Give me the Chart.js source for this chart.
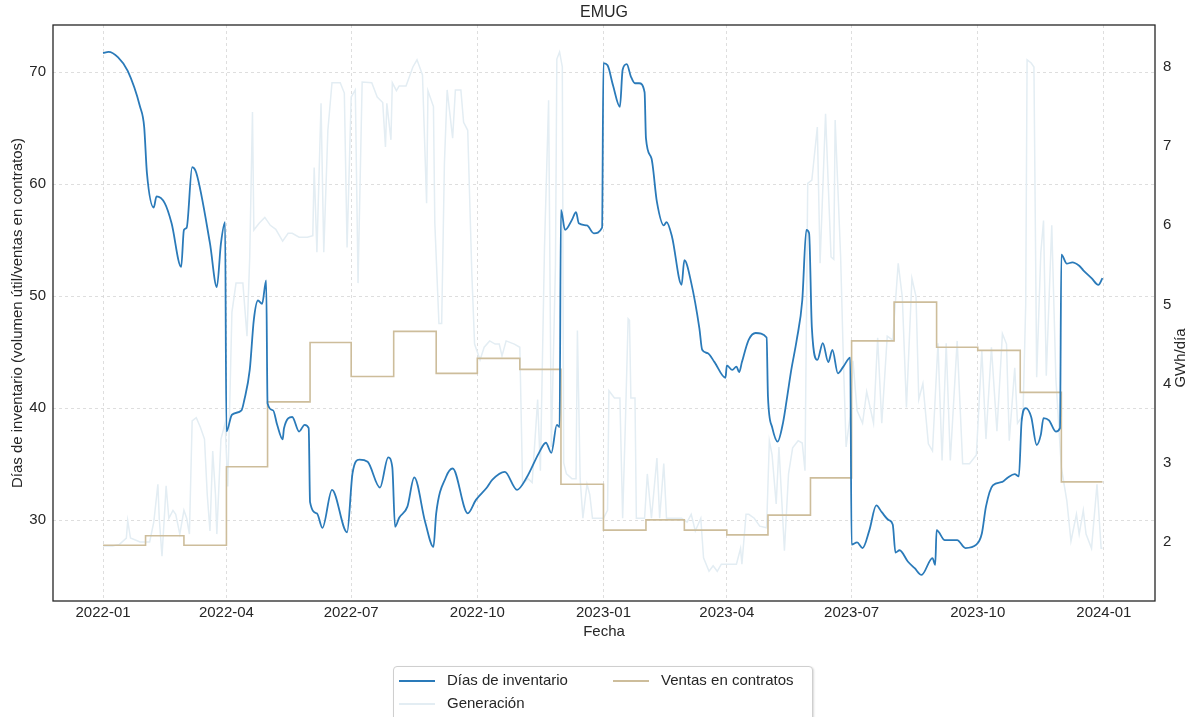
<!DOCTYPE html>
<html>
<head>
<meta charset="utf-8">
<script src="https://cdn.jsdelivr.net/npm/chart.js@4.4.1/dist/chart.umd.min.js"></script>
<style>
    html, body { margin: 0; padding: 0; background: #fff; }
    #wrap { position: relative; width: 1189px; height: 717px; overflow: hidden; }
    #legend {
        position: absolute; left: 393px; top: 666px; width: 418px; height: 64px;
        border: 1px solid #cfcfcf; border-radius: 4px; background: #fff;
        box-shadow: 1px 1px 2px rgba(0,0,0,0.15);
        font: 15px "Liberation Sans", Arial, sans-serif; color: #262626;
    }
    .item { position: absolute; height: 20px; line-height: 20px; white-space: nowrap; }
    .item span.muestra { display: inline-block; width: 36px; height: 0; vertical-align: middle; margin-right: 12px; }
</style>
</head>
<body>
<div id="wrap">
    <canvas id="grafico" width="1189" height="717"></canvas>
    <div id="legend">
        <div class="item" style="left:5px;top:3px;"><span class="muestra" style="border-top:2px solid #2a7ab9;"></span>Días de inventario</div>
        <div class="item" style="left:219px;top:3px;"><span class="muestra" style="border-top:2px solid #cdbd9b;"></span>Ventas en contratos</div>
        <div class="item" style="left:5px;top:26px;"><span class="muestra" style="border-top:2px solid #e3edf3;"></span>Generación</div>
    </div>
</div>
<script>
// --- Días de inventario (eje izquierdo) ---
const fechasInventario = [
    '2022-01-01','2022-01-05','2022-01-12','2022-01-19','2022-01-28','2022-01-31','2022-02-02','2022-02-07','2022-02-09','2022-02-15',
    '2022-02-20','2022-02-27','2022-03-01','2022-03-03','2022-03-07','2022-03-10','2022-03-20','2022-03-25','2022-03-28','2022-03-31',
    '2022-04-01','2022-04-05','2022-04-12','2022-04-14','2022-04-18','2022-04-21','2022-04-24','2022-04-27','2022-04-30','2022-05-01',
    '2022-05-05','2022-05-08','2022-05-12','2022-05-13','2022-05-19','2022-05-24','2022-05-28','2022-05-31','2022-06-01','2022-06-06',
    '2022-06-10','2022-06-17','2022-06-28','2022-07-02','2022-07-07','2022-07-13','2022-07-22','2022-07-28','2022-07-31','2022-08-02',
    '2022-08-05','2022-08-11','2022-08-16','2022-08-24','2022-08-30','2022-09-01','2022-09-08','2022-09-13','2022-09-24','2022-09-30',
    '2022-10-08','2022-10-12','2022-10-21','2022-10-30','2022-11-06','2022-11-15','2022-11-20','2022-11-24','2022-11-28','2022-11-30',
    '2022-12-01','2022-12-04','2022-12-09','2022-12-12','2022-12-14','2022-12-20','2022-12-25','2022-12-31','2023-01-01','2023-01-04',
    '2023-01-08','2023-01-13','2023-01-15','2023-01-18','2023-01-21','2023-01-24','2023-01-27','2023-01-31','2023-02-01','2023-02-05',
    '2023-02-09','2023-02-14','2023-02-16','2023-02-20','2023-02-27','2023-03-01','2023-03-06','2023-03-12','2023-03-14','2023-03-18',
    '2023-03-23','2023-03-31','2023-04-01','2023-04-05','2023-04-08','2023-04-10','2023-04-12','2023-04-17','2023-04-22','2023-04-30',
    '2023-05-01','2023-05-04','2023-05-08','2023-05-12','2023-05-15','2023-05-18','2023-05-22','2023-05-26','2023-05-29','2023-05-31',
    '2023-06-02','2023-06-06','2023-06-10','2023-06-14','2023-06-17','2023-06-21','2023-06-25','2023-06-30','2023-07-01','2023-07-05',
    '2023-07-09','2023-07-14','2023-07-19','2023-07-23','2023-07-28','2023-07-31','2023-08-02','2023-08-05','2023-08-11','2023-08-16',
    '2023-08-21','2023-08-29','2023-08-31','2023-09-01','2023-09-07','2023-09-16','2023-09-22','2023-09-30','2023-10-04','2023-10-07',
    '2023-10-12','2023-10-19','2023-10-23','2023-10-28','2023-10-31','2023-11-02','2023-11-05','2023-11-09','2023-11-13','2023-11-16',
    '2023-11-18','2023-11-22','2023-11-27','2023-11-30','2023-12-01','2023-12-05','2023-12-09','2023-12-14','2023-12-17','2023-12-23',
    '2023-12-28','2023-12-31'
];
const diasInventario = [
    71.7, 71.8, 71.3, 70.1, 66.9, 65.1, 61.0, 57.9, 58.9, 58.3,
    56.5, 52.6, 55.9, 56.1, 61.5, 61.0, 54.7, 50.8, 54.7, 56.6,
    37.9, 39.4, 39.8, 40.7, 43.4, 47.9, 49.6, 49.3, 51.4, 40.4,
    39.8, 38.5, 37.2, 38.2, 39.2, 37.9, 38.5, 38.2, 31.6, 30.6,
    29.3, 32.7, 28.9, 34.2, 35.4, 35.2, 32.9, 35.6, 34.7, 29.4,
    30.2, 31.2, 33.8, 29.8, 27.6, 30.6, 33.8, 34.6, 30.6, 31.8,
    32.9, 33.6, 34.3, 32.7, 33.8, 36.0, 36.9, 36.0, 38.5, 38.3,
    57.7, 55.9, 56.8, 57.5, 56.5, 56.3, 55.6, 56.1, 70.8, 70.6,
    68.8, 66.9, 70.2, 70.7, 69.6, 69.0, 69.0, 68.2, 64.1, 62.3,
    58.4, 56.3, 56.6, 55.3, 51.0, 53.2, 51.2, 47.1, 45.2, 44.9,
    44.1, 42.7, 43.8, 43.4, 43.7, 43.2, 44.1, 46.1, 46.7, 46.3,
    41.0, 38.3, 37.0, 38.7, 41.0, 43.4, 46.1, 49.6, 55.9, 55.6,
    47.2, 44.3, 45.8, 44.1, 45.2, 43.1, 43.7, 44.5, 27.8, 28.0,
    27.5, 29.1, 31.3, 30.7, 30.0, 29.6, 27.1, 27.3, 26.3, 25.7,
    25.1, 26.6, 26.0, 29.1, 28.2, 28.2, 27.5, 27.8, 28.8, 31.2,
    33.1, 33.4, 33.8, 34.1, 33.9, 38.8, 40.0, 39.2, 36.7, 37.6,
    39.1, 38.9, 37.9, 38.2, 53.7, 52.9, 53.0, 52.7, 52.3, 51.6,
    51.0, 51.6
];

// --- Ventas en contratos (eje derecho, GWh/día, valor mensual) ---
const fechasVentas = [
    '2022-01-01','2022-02-01','2022-03-01','2022-04-01','2022-05-01','2022-06-01','2022-07-01','2022-08-01',
    '2022-09-01','2022-10-01','2022-11-01','2022-12-01','2023-01-01','2023-02-01','2023-03-01','2023-04-01',
    '2023-05-01','2023-06-01','2023-07-01','2023-08-01','2023-09-01','2023-10-01','2023-11-01','2023-12-01',
    '2023-12-31'
];
const ventasContratos = [
    1.96, 2.08, 1.96, 2.95, 3.77, 4.52, 4.09, 4.66,
    4.13, 4.32, 4.18, 2.73, 2.15, 2.28, 2.15, 2.09,
    2.34, 2.81, 4.54, 5.03, 4.46, 4.42, 3.89, 2.76,
    2.76
];

// --- Generación (eje derecho, GWh/día) ---
const fechasGeneracion = [
    '2022-01-01','2022-01-08','2022-01-13','2022-01-18','2022-01-19','2022-01-21','2022-01-28','2022-02-04','2022-02-07','2022-02-10',
    '2022-02-11','2022-02-13','2022-02-15','2022-02-16','2022-02-18','2022-02-21','2022-02-23','2022-02-26','2022-03-01','2022-03-03',
    '2022-03-05','2022-03-07','2022-03-10','2022-03-13','2022-03-16','2022-03-18','2022-03-20','2022-03-22','2022-03-24','2022-03-25',
    '2022-03-28','2022-03-31','2022-04-02','2022-04-05','2022-04-08','2022-04-13','2022-04-16','2022-04-18','2022-04-20','2022-04-21',
    '2022-04-25','2022-04-29','2022-05-03','2022-05-07','2022-05-12','2022-05-16','2022-05-19','2022-05-24','2022-05-30','2022-06-03',
    '2022-06-04','2022-06-06','2022-06-09','2022-06-11','2022-06-14','2022-06-17','2022-06-23','2022-06-26','2022-06-28','2022-07-01',
    '2022-07-04','2022-07-06','2022-07-09','2022-07-16','2022-07-20','2022-07-24','2022-07-26','2022-07-27','2022-07-30','2022-07-31',
    '2022-08-03','2022-08-05','2022-08-10','2022-08-15','2022-08-18','2022-08-22','2022-08-25','2022-08-26','2022-08-30','2022-08-31',
    '2022-09-03','2022-09-05','2022-09-07','2022-09-09','2022-09-13','2022-09-15','2022-09-19','2022-09-21','2022-09-24','2022-09-27',
    '2022-09-29','2022-10-03','2022-10-06','2022-10-10','2022-10-14','2022-10-17','2022-10-19','2022-10-22','2022-10-28','2022-11-01',
    '2022-11-03','2022-11-07','2022-11-10','2022-11-14','2022-11-16','2022-11-19','2022-11-22','2022-11-24','2022-11-27','2022-11-28',
    '2022-11-30','2022-12-02','2022-12-03','2022-12-05','2022-12-09','2022-12-12','2022-12-13','2022-12-15','2022-12-17','2022-12-20',
    '2022-12-22','2022-12-24','2023-01-01','2023-01-04','2023-01-05','2023-01-09','2023-01-13','2023-01-15','2023-01-17','2023-01-19',
    '2023-01-20','2023-01-21','2023-01-24','2023-01-25','2023-01-31','2023-02-02','2023-02-05','2023-02-09','2023-02-11','2023-02-14',
    '2023-02-16','2023-02-23','2023-02-27','2023-03-03','2023-03-06','2023-03-09','2023-03-13','2023-03-15','2023-03-19','2023-03-22',
    '2023-03-25','2023-03-28','2023-04-05','2023-04-08','2023-04-11','2023-04-12','2023-04-15','2023-04-17','2023-04-21','2023-04-25',
    '2023-04-30','2023-05-02','2023-05-04','2023-05-07','2023-05-09','2023-05-13','2023-05-16','2023-05-19','2023-05-23','2023-05-26',
    '2023-05-28','2023-05-30','2023-06-02','2023-06-06','2023-06-08','2023-06-12','2023-06-16','2023-06-18','2023-06-19','2023-06-23',
    '2023-06-25','2023-06-27','2023-06-30','2023-07-02','2023-07-05','2023-07-09','2023-07-12','2023-07-17','2023-07-20','2023-07-23',
    '2023-07-27','2023-07-31','2023-08-04','2023-08-07','2023-08-10','2023-08-14','2023-08-17','2023-08-19','2023-08-22','2023-08-26',
    '2023-08-29','2023-09-02','2023-09-05','2023-09-08','2023-09-11','2023-09-16','2023-09-20','2023-09-25','2023-09-30','2023-10-04',
    '2023-10-07','2023-10-11','2023-10-15','2023-10-19','2023-10-22','2023-10-24','2023-10-28','2023-10-30','2023-11-03','2023-11-05',
    '2023-11-06','2023-11-09','2023-11-11','2023-11-13','2023-11-16','2023-11-18','2023-11-20','2023-11-24','2023-11-27','2023-12-01',
    '2023-12-05','2023-12-08','2023-12-12','2023-12-14','2023-12-17','2023-12-19','2023-12-23','2023-12-27','2023-12-30','2023-12-31'
];
const generacion = [
    1.95, 1.95, 1.97, 2.05, 2.27, 2.05, 2.00, 2.00, 2.25, 2.73,
    2.30, 1.82, 2.40, 2.71, 2.30, 2.40, 2.35, 2.10, 2.40, 2.30,
    2.10, 3.53, 3.57, 3.45, 3.30, 2.60, 2.14, 3.15, 2.60, 2.10,
    3.30, 3.50, 2.70, 4.90, 5.27, 5.27, 4.60, 5.60, 7.43, 5.94,
    6.03, 6.10, 6.00, 5.95, 5.80, 5.90, 5.90, 5.85, 5.85, 5.87,
    6.73, 5.66, 7.54, 5.66, 7.20, 7.80, 7.80, 7.67, 5.72, 7.62,
    7.71, 5.27, 7.81, 7.80, 7.62, 7.55, 6.99, 7.54, 7.08, 7.80,
    7.70, 7.76, 7.76, 8.00, 8.09, 7.90, 6.28, 7.70, 7.50, 6.03,
    4.76, 4.76, 6.78, 7.71, 7.10, 7.71, 7.71, 7.30, 7.20, 5.39,
    4.50, 4.30, 4.46, 4.54, 4.50, 4.50, 4.35, 4.54, 4.50, 4.46,
    2.73, 2.80, 2.75, 3.80, 2.90, 5.72, 7.58, 3.20, 5.50, 8.10,
    8.19, 8.00, 3.00, 2.86, 2.80, 2.80, 4.67, 2.80, 2.30, 2.73,
    2.60, 2.30, 2.30, 2.40, 3.91, 3.82, 3.82, 2.30, 3.50, 4.82,
    4.80, 3.82, 3.82, 2.30, 2.30, 2.86, 2.30, 3.06, 2.30, 2.99,
    2.30, 2.30, 2.30, 2.25, 2.35, 2.14, 2.30, 1.80, 1.63, 1.70,
    1.63, 1.72, 1.72, 1.72, 1.92, 1.72, 2.35, 2.35, 2.30, 2.20,
    2.18, 3.28, 3.10, 2.48, 3.20, 1.89, 2.86, 3.19, 3.28, 3.25,
    2.90, 6.53, 6.57, 7.24, 5.52, 7.41, 5.60, 5.57, 7.33, 5.60,
    4.30, 3.20, 3.60, 4.29, 3.66, 3.50, 3.90, 3.50, 4.58, 3.50,
    4.60, 4.55, 5.52, 5.09, 3.70, 5.33, 5.10, 3.80, 4.00, 3.24,
    3.15, 4.51, 3.03, 4.51, 3.03, 4.54, 2.99, 2.99, 3.10, 4.42,
    3.30, 4.46, 3.40, 4.63, 4.50, 3.28, 4.20, 3.50, 3.60, 5.00,
    8.09, 8.05, 8.00, 4.08, 5.65, 6.06, 4.10, 6.00, 4.06, 2.94,
    2.52, 2.01, 2.35, 2.10, 2.40, 2.10, 1.92, 2.73, 1.92, 1.92
];

// Marcas del eje x (inicio de cada trimestre)
const marcasFecha = ['2022-01-01','2022-04-01','2022-07-01','2022-10-01','2023-01-01','2023-04-01','2023-07-01','2023-10-01','2024-01-01'];
const marcasIzq = [30, 40, 50, 60, 70];
const marcasDer = [2, 3, 4, 5, 6, 7, 8];

const ORIGEN = Date.UTC(2022, 0, 1);
// días desde 2022-01-01
function dia(s) {
    const [y, m, d] = s.split('-').map(Number);
    return (Date.UTC(y, m - 1, d) - ORIGEN) / 86400000;
}
function etiquetaFecha(v) {
    const f = new Date(ORIGEN + v * 86400000);
    return f.getUTCFullYear() + '-' + String(f.getUTCMonth() + 1).padStart(2, '0');
}
const serie = (fechas, valores) => fechas.map((f, i) => ({ x: dia(f), y: valores[i] }));

const FUENTE = '"Liberation Sans", Arial, sans-serif';

// marco negro del área de trazado, título y etiqueta del eje derecho
const marco = {
    id: 'marco',
    afterDraw(chart) {
        const { ctx, chartArea: a } = chart;
        ctx.save();
        ctx.strokeStyle = '#262626';
        ctx.lineWidth = 1.3;
        ctx.strokeRect(a.left, a.top, a.right - a.left, a.bottom - a.top);
        ctx.fillStyle = '#262626';
        ctx.font = '16px ' + FUENTE;
        ctx.textAlign = 'center';
        ctx.textBaseline = 'middle';
        ctx.fillText('EMUG', (a.left + a.right) / 2, 13);
        // GWh/día, de abajo hacia arriba como en matplotlib
        ctx.font = '15px ' + FUENTE;
        ctx.translate(1181, 358);
        ctx.rotate(-Math.PI / 2);
        ctx.fillText('GWh/día', 0, 0);
        ctx.restore();
    }
};

new Chart(document.getElementById('grafico'), {
    type: 'line',
    data: {
        datasets: [
            {
                label: 'Días de inventario',
                data: serie(fechasInventario, diasInventario),
                yAxisID: 'y',
                borderColor: '#2a7ab9',
                borderWidth: 1.8,
                pointRadius: 0,
                cubicInterpolationMode: 'monotone'
            },
            {
                label: 'Ventas en contratos',
                data: serie(fechasVentas, ventasContratos),
                yAxisID: 'y2',
                borderColor: '#cdbd9b',
                borderWidth: 1.6,
                pointRadius: 0,
                stepped: 'before'
            },
            {
                label: 'Generación',
                data: serie(fechasGeneracion, generacion),
                yAxisID: 'y2',
                borderColor: '#e3edf3',
                borderWidth: 1.5,
                pointRadius: 0,
                tension: 0
            }
        ]
    },
    options: {
        animation: false,
        responsive: false,
        devicePixelRatio: 1,
        layout: { padding: { left: 0, right: 0, top: 25, bottom: 72 } },
        plugins: {
            legend: { display: false },
            tooltip: { enabled: false }
        },
        scales: {
            x: {
                type: 'linear',
                min: -36.5,
                max: 767.3,
                afterBuildTicks: s => { s.ticks = marcasFecha.map(f => ({ value: dia(f) })); },
                afterFit: s => { s.height = 44; },
                grid: { color: '#d6d6d6', lineWidth: 0.8, drawTicks: false },
                border: { display: false, dash: [3, 3] },
                ticks: {
                    color: '#262626', font: { size: 15, family: FUENTE }, padding: 3,
                    maxRotation: 0, autoSkip: false,
                    callback: v => etiquetaFecha(v)
                },
                title: {
                    display: true, text: 'Fecha', color: '#262626',
                    font: { size: 15, family: FUENTE }, padding: { top: 0, bottom: 4 }
                }
            },
            y: {
                position: 'left',
                min: 22.77,
                max: 74.2,
                afterBuildTicks: s => { s.ticks = marcasIzq.map(v => ({ value: v })); },
                afterFit: s => { s.width = 53; },
                grid: { color: '#d6d6d6', lineWidth: 0.8, drawTicks: false },
                border: { display: false, dash: [3, 3] },
                ticks: { color: '#262626', font: { size: 15, family: FUENTE }, padding: 7 },
                title: {
                    display: true, text: 'Días de inventario (volumen útil/ventas en contratos)',
                    color: '#262626', font: { size: 15, family: FUENTE }, padding: { top: 9, bottom: 0 }
                }
            },
            y2: {
                position: 'right',
                min: 1.255,
                max: 8.53,
                afterBuildTicks: s => { s.ticks = marcasDer.map(v => ({ value: v })); },
                afterFit: s => { s.width = 34; },
                grid: { drawOnChartArea: false, drawTicks: false },
                border: { display: false },
                ticks: { color: '#262626', font: { size: 15, family: FUENTE }, padding: 8 }
            }
        }
    },
    plugins: [marco]
});
</script>
</body>
</html>
